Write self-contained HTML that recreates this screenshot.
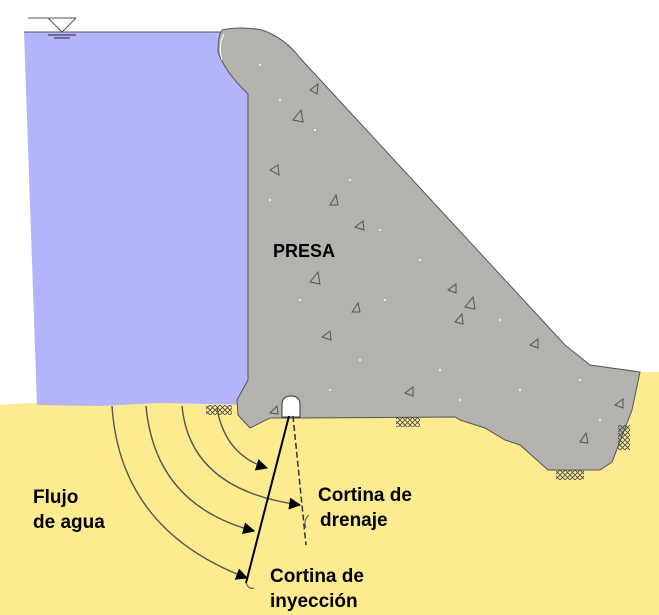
<!DOCTYPE html>
<html><head><meta charset="utf-8"><style>
html,body{margin:0;padding:0;background:#fff;}
svg{display:block}
text{font-family:"Liberation Sans",Arial,sans-serif;font-weight:bold;fill:#000}
</style></head><body>
<svg width="659" height="615" viewBox="0 0 659 615" xmlns="http://www.w3.org/2000/svg">
<defs>
<marker id="ar" viewBox="0 0 10 10" refX="9" refY="5" markerWidth="14" markerHeight="12" orient="auto" markerUnits="userSpaceOnUse">
<path d="M0,0 L10,5 L0,10 z" fill="#000"/></marker>
<pattern id="hatch" width="5" height="5" patternUnits="userSpaceOnUse">
<path d="M0,0 L5,5 M5,0 L0,5" stroke="#444" stroke-width="0.8"/></pattern>
</defs>
<path d="M0,405 L30,403 L100,406 L160,403 L230,405 L640,372 L659,372 L659,615 L0,615 Z" fill="#fdeb90"/>
<path d="M24,32 L248,32 L248,405 L160,403 L100,406 L37,405 Z" fill="#b4b4fa"/>
<line x1="24" y1="32" x2="246" y2="32" stroke="#556" stroke-width="1"/>
<line x1="28" y1="18" x2="76" y2="18" stroke="#555" stroke-width="1"/>
<path d="M48,18 L62,32 L76,18" fill="none" stroke="#555" stroke-width="1"/>
<line x1="48" y1="35" x2="76" y2="35" stroke="#557" stroke-width="1.5"/>
<line x1="54" y1="38" x2="70" y2="38" stroke="#557" stroke-width="1.5"/>
<path d="M222,30 Q240,26 262,30 Q285,38 300,58 L565,345 L590,365 L640,372 L632,410 L612,462 L600,470 L548,470 L520,445 L505,440 L485,428 L460,420 L455,417 L300,418 L270,418 L250,428 L238,415 L237,400 L248,380 L248,94 Q225,72 218,52 Q218,35 222,30 Z" fill="#b3b2ae" stroke="#555" stroke-width="1"/>
<path d="M224,34 Q218,45 222,60" fill="none" stroke="#fff" stroke-width="1"/>
<g fill="none" stroke="#555" stroke-width="1">
<path d="M310,90 l8,-6 l-1,10 z"/><path d="M293,120 l8,-10 l2,12 z"/><path d="M270,170 l8,-5 l1,10 z"/>
<path d="M330,205 l6,-10 l2,10 z"/><path d="M355,227 l8,-6 l1,9 z"/><path d="M310,282 l8,-10 l2,12 z"/>
<path d="M448,290 l8,-6 l0,9 z"/><path d="M465,307 l8,-10 l2,12 z"/><path d="M455,322 l7,-8 l1,10 z"/>
<path d="M322,337 l8,-6 l1,9 z"/><path d="M352,312 l6,-9 l2,9 z"/><path d="M530,345 l8,-6 l0,9 z"/>
<path d="M405,393 l8,-6 l0,9 z"/><path d="M615,405 l8,-6 l0,9 z"/><path d="M580,442 l6,-9 l2,10 z"/>
<path d="M270,413 l7,-7 l1,8 z"/>
</g>
<g fill="#fff">
<circle cx="260" cy="65" r="1"/><circle cx="280" cy="100" r="1"/><circle cx="315" cy="130" r="1"/><circle cx="350" cy="180" r="1"/><circle cx="380" cy="230" r="1"/><circle cx="420" cy="260" r="1"/><circle cx="300" cy="300" r="1"/><circle cx="385" cy="300" r="1"/><circle cx="500" cy="320" r="1"/><circle cx="360" cy="360" r="1"/><circle cx="440" cy="370" r="1"/><circle cx="520" cy="390" r="1"/><circle cx="580" cy="380" r="1"/><circle cx="600" cy="420" r="1"/><circle cx="330" cy="390" r="1"/><circle cx="270" cy="200" r="1"/><circle cx="460" cy="400" r="1"/>
</g>
<rect x="206" y="405" width="26" height="10" fill="url(#hatch)"/>
<rect x="396" y="417" width="24" height="10" fill="url(#hatch)"/>
<rect x="556" y="470" width="28" height="10" fill="url(#hatch)"/>
<rect x="618" y="425" width="12" height="25" fill="url(#hatch)"/>
<path d="M282,417 L282,405 Q282,396 291,396 Q300,396 300,405 L300,417 Z" fill="#fff" stroke="#333" stroke-width="1"/>
<g fill="none" stroke="#555" stroke-width="1.4">
<path d="M112,406 Q120,530 247,578" marker-end="url(#ar)"/>
<path d="M146,406 Q155,505 254,531" marker-end="url(#ar)"/>
<path d="M182,406 Q190,490 300,505" marker-end="url(#ar)"/>
<path d="M217,408 Q225,455 267,468" marker-end="url(#ar)"/>
</g>
<line x1="289" y1="416" x2="246" y2="583" stroke="#000" stroke-width="2"/>
<path d="M246,583 Q249,590 254,588" fill="none" stroke="#555" stroke-width="1"/>
<line x1="293" y1="416" x2="306" y2="545" stroke="#333" stroke-width="1.5" stroke-dasharray="6,3"/>
<path d="M309,515 Q303,520 306,528" fill="none" stroke="#555" stroke-width="1"/>
<text x="273" y="257" font-size="18">PRESA</text>
<text x="33" y="503" font-size="19">Flujo</text>
<text x="33" y="528" font-size="19">de agua</text>
<text x="318" y="501" font-size="19">Cortina de</text>
<text x="320" y="526" font-size="19">drenaje</text>
<text x="270" y="582" font-size="19">Cortina de</text>
<text x="270" y="607" font-size="19">inyección</text>
</svg>
</body></html>
